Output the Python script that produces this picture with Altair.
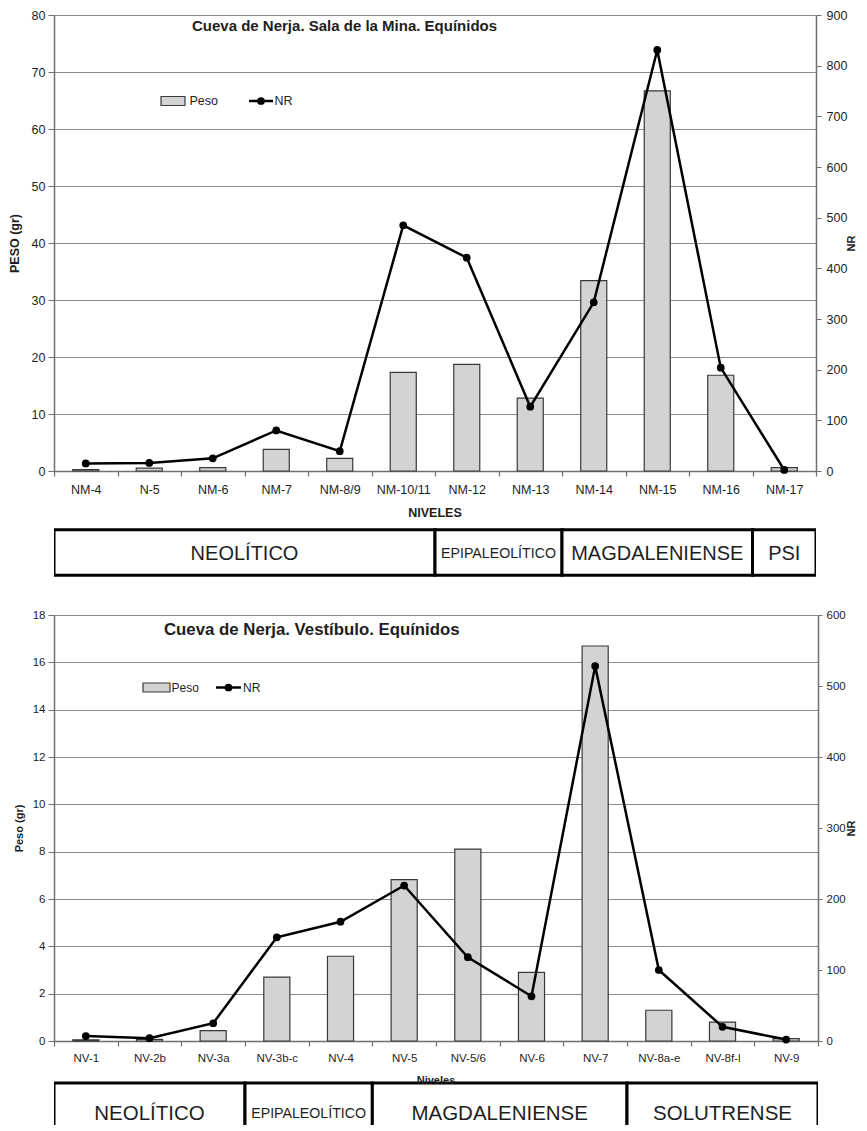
import altair as alt
import pandas as pd

# ---------------- Sala de la Mina ----------------
mina_niveles = ["NM-4", "N-5", "NM-6", "NM-7", "NM-8/9", "NM-10/11",
                "NM-12", "NM-13", "NM-14", "NM-15", "NM-16", "NM-17"]
mina_peso = [0.25, 0.5, 0.6, 3.8, 2.2, 17.3, 18.7, 12.8, 33.4, 66.7, 16.8, 0.6]
mina_nr = [15, 16, 25, 80, 39, 485, 421, 127, 333, 831, 204, 2]
mina_periodos = ["NEOLÍTICO", "EPIPALEOLÍTICO", "MAGDALENIENSE", "PSI"]
mina_inicio = [0, 6, 8, 11]
mina_fin = [6, 8, 11, 12]

# ---------------- Vestíbulo ----------------
vest_niveles = ["NV-1", "NV-2b", "NV-3a", "NV-3b-c", "NV-4", "NV-5",
                "NV-5/6", "NV-6", "NV-7", "NV-8a-e", "NV-8f-l", "NV-9"]
vest_peso = [0.05, 0.07, 0.44, 2.7, 3.58, 6.82, 8.11, 2.9, 16.69, 1.3, 0.8, 0.1]
vest_nr = [7, 4, 25, 146, 168, 219, 118, 63, 528, 100, 20, 2]
vest_periodos = ["NEOLÍTICO", "EPIPALEOLÍTICO", "MAGDALENIENSE", "SOLUTRENSE"]
vest_inicio = [0, 3, 5, 9]
vest_fin = [3, 5, 9, 12]

FONT = "Liberation Sans, Arial, sans-serif"
TXT = "#1e1e1e"
GRID = "#8a8a8a"
AX = "#707070"


def panel(niveles, peso, nr, titulo, w, h, pmax, pstep, nmax, nstep, ytitle,
          xfs, ylfs, yrfs, ytfs, yr_title_fs, ytpad, yrtpad, xlpad, yr_tick,
          title_x, title_y, title_fs, leg):
    df = pd.DataFrame({"nivel": niveles, "peso": peso, "nr": nr})
    base = alt.Chart(df)
    xenc = alt.X(
        "nivel:N", sort=None,
        scale=alt.Scale(paddingInner=0, paddingOuter=0),
        axis=alt.Axis(title=None, labelAngle=0, labelFontSize=xfs, labelColor=TXT,
                      labelFont=FONT, tickBand="extent", tickSize=5, labelPadding=xlpad,
                      domainColor=AX, domainWidth=1.5, tickColor=AX, tickWidth=1.2),
    )
    bars = base.mark_bar(width={"band": 0.41}, fill="#d3d3d3", stroke="#3a3a3a",
                         strokeWidth=1.2).encode(
        x=xenc,
        y=alt.Y("peso:Q", scale=alt.Scale(domain=[0, pmax], nice=False),
                axis=alt.Axis(values=list(range(0, pmax + 1, pstep)), title=ytitle,
                              titleFontSize=ytfs, titleFont=FONT, titleFontWeight="bold",
                              titleColor=TXT, titlePadding=ytpad,
                              labelFontSize=ylfs, labelColor=TXT, labelFont=FONT,
                              tickSize=6, labelPadding=3, tickColor=AX,
                              domainColor=AX, domainWidth=1.5,
                              grid=True, gridColor=GRID, gridWidth=1.2)),
    )
    line = base.mark_line(color="black", strokeWidth=2.5,
                          point=alt.OverlayMarkDef(filled=True, color="black", size=60)).encode(
        x=xenc,
        y=alt.Y("nr:Q", scale=alt.Scale(domain=[0, nmax], nice=False),
                axis=alt.Axis(orient="right", values=list(range(0, nmax + 1, nstep)),
                              title="NR", titleAngle=270, titleFontSize=yr_title_fs,
                              titleFont=FONT, titleFontWeight="bold", titleColor=TXT,
                              titlePadding=yrtpad,
                              labelFontSize=yrfs, labelColor=TXT, labelFont=FONT,
                              tickSize=yr_tick, labelPadding=yr_tick, tickColor=AX,
                              domainColor=AX, domainWidth=1.5, grid=False)),
    )
    one = alt.Data(values=[{"k": 1}])
    title = alt.Chart(one).mark_text(align="left", baseline="middle", font=FONT,
                                     fontWeight="bold", fontSize=title_fs, color=TXT).encode(
        x=alt.value(title_x), y=alt.value(title_y), text=alt.value(titulo))
    lx0, lx1, ly, tx1, l2x0, l2x1, tx2, lfs = leg
    leg_rect = alt.Chart(one).mark_rect(fill="#d3d3d3", stroke="#3a3a3a", strokeWidth=1.2).encode(
        x=alt.value(lx0), x2=alt.value(lx1), y=alt.value(ly - 4.5), y2=alt.value(ly + 4.5))
    leg_t1 = alt.Chart(one).mark_text(align="left", baseline="middle", font=FONT,
                                      fontSize=lfs, color=TXT).encode(
        x=alt.value(tx1), y=alt.value(ly), text=alt.value("Peso"))
    leg_line = alt.Chart(one).mark_rule(color="black", strokeWidth=2.5).encode(
        x=alt.value(l2x0), x2=alt.value(l2x1), y=alt.value(ly))
    leg_pt = alt.Chart(one).mark_point(filled=True, color="black", size=60, opacity=1).encode(
        x=alt.value((l2x0 + l2x1) / 2), y=alt.value(ly))
    leg_t2 = alt.Chart(one).mark_text(align="left", baseline="middle", font=FONT,
                                      fontSize=lfs, color=TXT).encode(
        x=alt.value(tx2), y=alt.value(ly), text=alt.value("NR"))
    return alt.layer(bars, line, title, leg_rect, leg_t1, leg_line, leg_pt, leg_t2).resolve_scale(
        y="independent").properties(width=w, height=h)


def strip(periodos, ini, fin, w, h, xtitle, xtitle_y, xtitle_fs, box_y0, box_y1,
          text_y, fs, fs_narrow):
    df = pd.DataFrame({"periodo": periodos, "ini": ini, "fin": fin})
    base = alt.Chart(df)
    xs = alt.Scale(domain=[0, 12], nice=False, zero=False)
    boxes = base.mark_rect(fill="white", stroke="black", strokeWidth=3, clip=True).encode(
        x=alt.X("ini:Q", scale=xs, axis=None), x2="fin:Q",
        y=alt.value(box_y0), y2=alt.value(box_y1))
    labels = base.transform_calculate(mid="(datum.ini + datum.fin) / 2").transform_filter(
        "datum.periodo != 'EPIPALEOLÍTICO'").mark_text(
        font=FONT, fontSize=fs, color=TXT, baseline="middle").encode(
        x=alt.X("mid:Q", scale=xs, axis=None), y=alt.value(text_y), text="periodo:N")
    labels_n = base.transform_calculate(mid="(datum.ini + datum.fin) / 2").transform_filter(
        "datum.periodo == 'EPIPALEOLÍTICO'").mark_text(
        font=FONT, fontSize=fs_narrow, color=TXT, baseline="middle").encode(
        x=alt.X("mid:Q", scale=xs, axis=None), y=alt.value(text_y), text="periodo:N")
    one = alt.Data(values=[{"k": 1}])
    xt = alt.Chart(one).mark_text(font=FONT, fontWeight="bold", fontSize=xtitle_fs,
                                  color=TXT, baseline="middle").encode(
        x=alt.value(w / 2), y=alt.value(xtitle_y), text=alt.value(xtitle))
    return alt.layer(boxes, labels, labels_n, xt).properties(width=w, height=h)


top = panel(mina_niveles, mina_peso, mina_nr, "Cueva de Nerja. Sala de la Mina. Equínidos",
            762, 456, 80, 10, 900, 100, "PESO (gr)",
            xfs=12.5, ylfs=12.5, yrfs=12.5, ytfs=12.5, yr_title_fs=11, ytpad=9.5,
            yrtpad=10, xlpad=7, yr_tick=5, title_x=138, title_y=11, title_fs=15,
            leg=(107, 131, 86, 135.5, 195, 219, 220.5, 12.5))
top_strip = strip(mina_periodos, mina_inicio, mina_fin, 762, 110, "NIVELES", 16, 12.5,
                  32.7, 78.3, 56.5, 20, 14.2)
bottom = panel(vest_niveles, vest_peso, vest_nr, "Cueva de Nerja. Vestíbulo. Equínidos",
               764, 426, 18, 2, 600, 100, "Peso (gr)",
               xfs=11.5, ylfs=11.5, yrfs=11.5, ytfs=11, yr_title_fs=11, ytpad=8,
               yrtpad=11, xlpad=6, yr_tick=4, title_x=110, title_y=15, title_fs=16.8,
               leg=(89, 116, 72.5, 117.5, 162, 187, 189, 12))
bottom_strip = strip(vest_periodos, vest_inicio, vest_fin, 764, 60, "Niveles", 15.8, 11,
                     17.9, 80, 49.2, 20.5, 14.2)

chart = alt.vconcat(top, top_strip, bottom, bottom_strip, spacing=0).properties(
    padding=0
).configure(font=FONT).configure_view(stroke="transparent")

chart.save("out.html", embed_options={"renderer": "svg", "actions": False})
